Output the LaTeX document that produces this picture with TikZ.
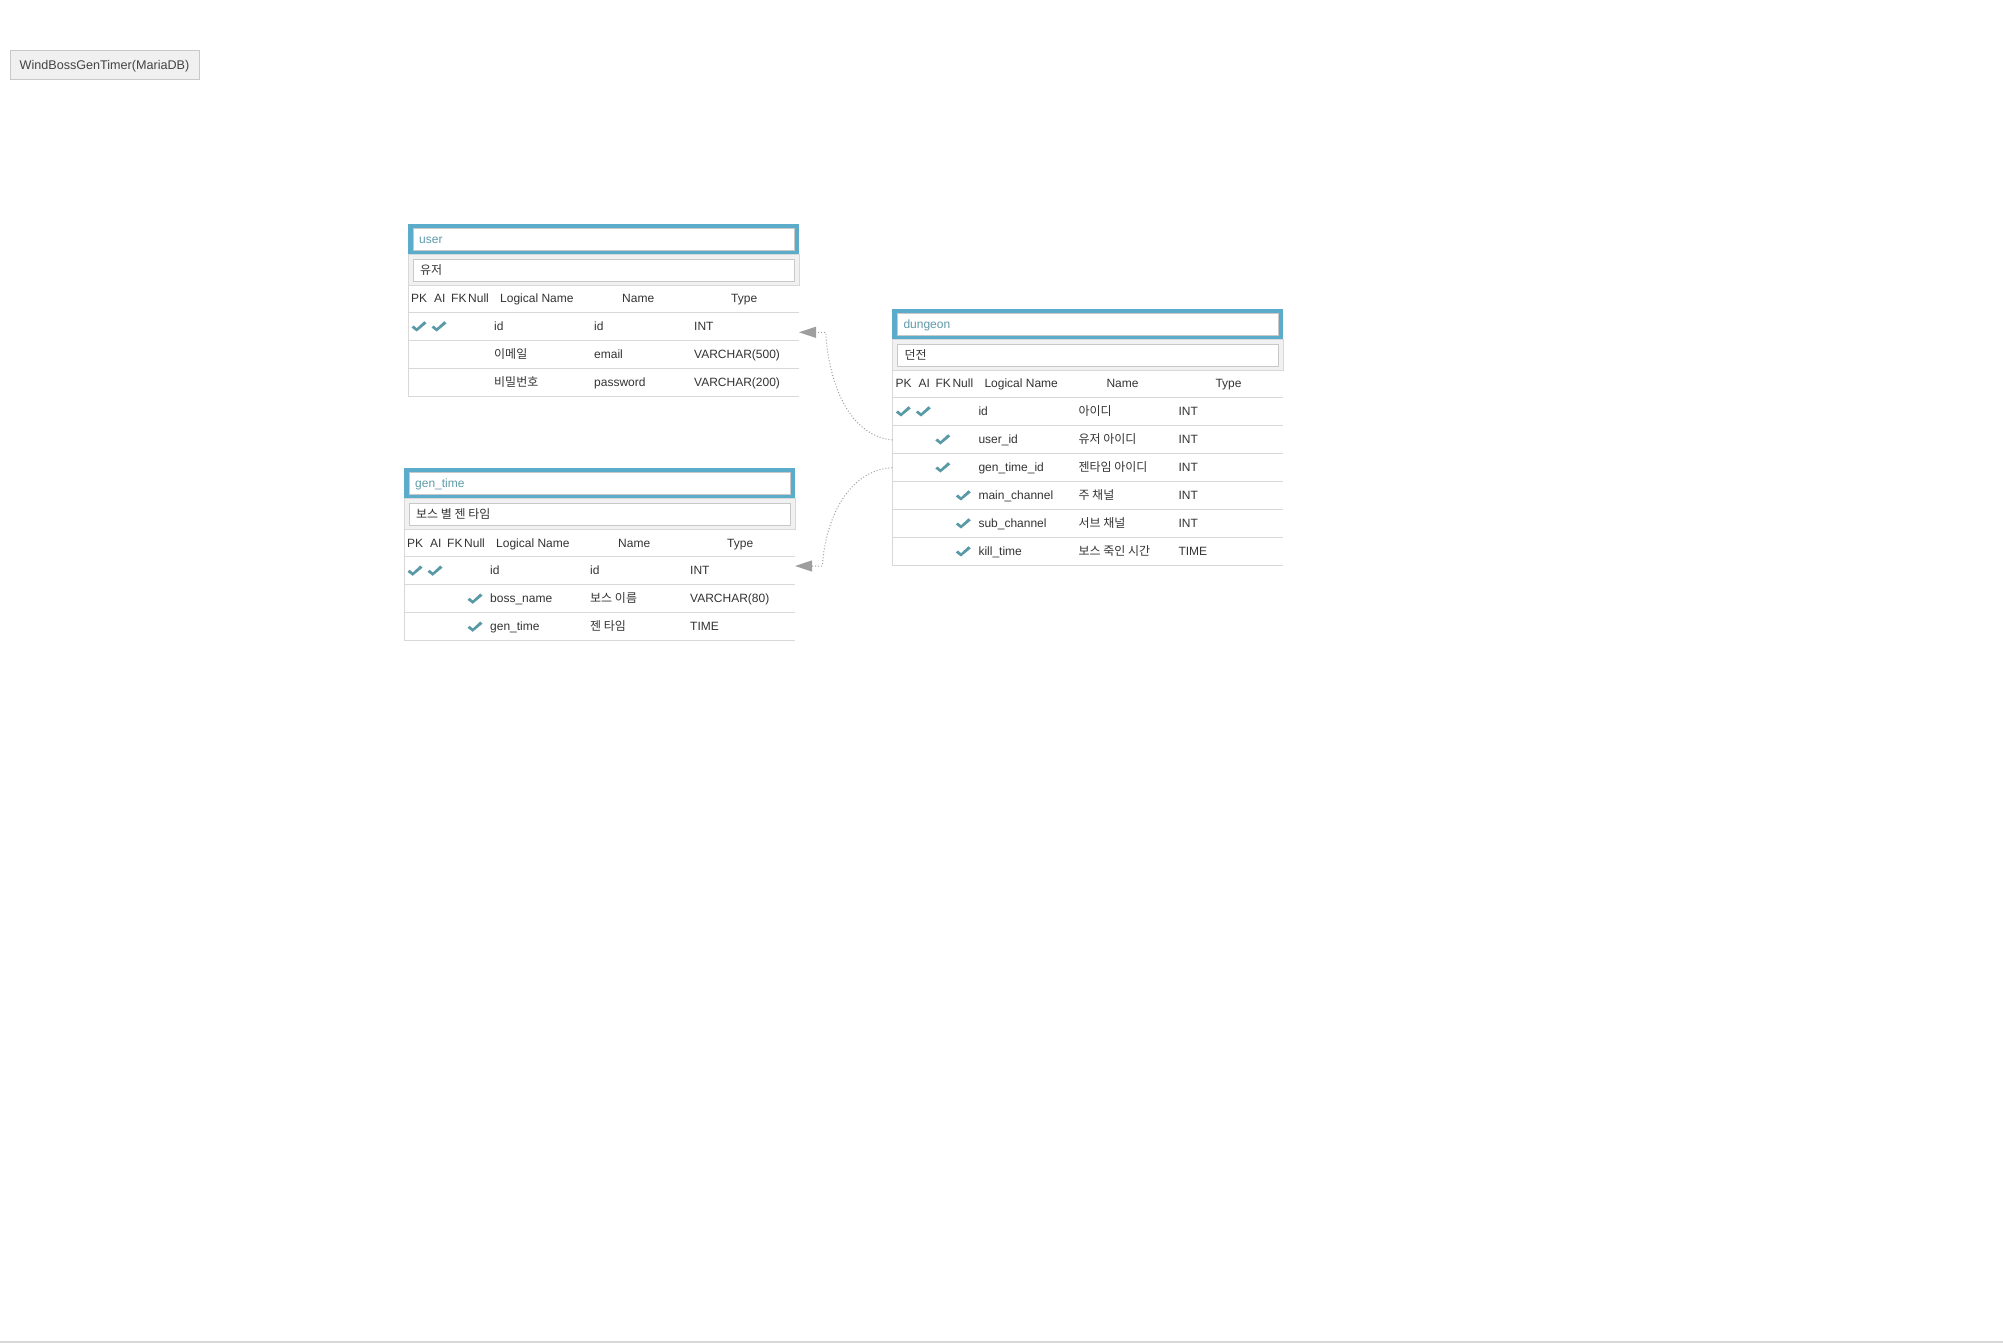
\documentclass[tikz,border=0pt]{standalone}
\usepackage{fontspec}
\setmainfont{Liberation Sans}
\newfontfamily\kr{Noto Sans CJK KR}
\usetikzlibrary{arrows.meta}
\definecolor{bandblue}{HTML}{5BACCB}
\definecolor{titteal}{HTML}{5E9BA9}
\definecolor{chkteal}{HTML}{5A9AA6}
\definecolor{txtgray}{HTML}{333333}
\definecolor{rowline}{HTML}{D8D8D8}
\definecolor{boxline}{HTML}{C8C8C8}
\definecolor{cmtgray}{HTML}{F1F1F1}
\definecolor{relgray}{HTML}{9E9E9E}
\definecolor{lblfill}{HTML}{F0F0F0}
\definecolor{lbltext}{HTML}{444444}

\begin{document}
\begin{tikzpicture}[x=1pt, y=-1pt, font=\fontsize{12}{14}\selectfont]
\tikzset{txtnoeud/.style={anchor=west, inner sep=0pt, text=txtgray, text height=8.6pt, text depth=0pt},
  titnoeud/.style={txtnoeud, text=titteal},
  chk/.pic={\fill[chkteal] (0,1.5) -- (2.2,-0.5) -- (5.2,2.2) -- (12.8,-4.8) -- (15,-2.6) -- (5.2,5.5) -- cycle;},
  rel/.style={draw=relgray, line width=1pt, dash pattern=on 1pt off 2pt,
    -{Triangle[length=17pt, width=11pt, fill=relgray]}}}
\useasboundingbox (0,0) rectangle (2003,1343);
\node[draw=boxline, fill=lblfill, minimum width=189pt, minimum height=29pt, inner sep=0pt,
  text=lbltext, text height=9pt, text depth=0pt, font=\fontsize{12.6}{14}\selectfont] (dbname) at (104.5,64.7) {WindBossGenTimer(MariaDB)};
\draw[rowline, line width=1.5pt] (0,1342.2) -- (2003,1342.2);

% user
\begin{scope}[shift={(408,224)}]
\fill[bandblue] (0,0) rectangle (391,30);
\filldraw[fill=white, draw=boxline] (5,4) rectangle (386,26);
\filldraw[fill=cmtgray, draw=rowline] (0,30) rectangle (391,61);
\filldraw[fill=white, draw=boxline] (5,35) rectangle (386,57);
\draw[rowline] (0,61) -- (0,172);
\foreach \k in {0,...,3} \draw[rowline] (0,88+28*\k) -- (391,88+28*\k);
\node[titnoeud] (Ut) at (11,15) {user};
\node[txtnoeud] (Uc) at (12,46) {\kr 유저};
\foreach \hx/\hl [count=\j] in {3/PK, 26/AI, 43/FK, 60/Null, 92/Logical Name, 214/Name, 323/Type}
  \node[txtnoeud] (Uh\j) at (\hx,74.5) {\hl};
\foreach \lgn/\nmv/\tyv [count=\rw] in {id/id/INT, {\kr 이메일}/email/VARCHAR(500), {\kr 비밀번호}/password/VARCHAR(200)} {
  \node[txtnoeud] (Ul\rw) at (86,74+28*\rw) {\lgn};
  \node[txtnoeud] (Un\rw) at (186,74+28*\rw) {\nmv};
  \node[txtnoeud] (Uy\rw) at (286,74+28*\rw) {\tyv};
}
\pic at (3.5,102) {chk};
\pic at (23.5,102) {chk};
\coordinate (Uin) at (391,108.3);
\end{scope}

% gen_time
\begin{scope}[shift={(404,468.3)}]
\fill[bandblue] (0,0) rectangle (391,30);
\filldraw[fill=white, draw=boxline] (5,4) rectangle (386,26);
\filldraw[fill=cmtgray, draw=rowline] (0,30) rectangle (391,61);
\filldraw[fill=white, draw=boxline] (5,35) rectangle (386,57);
\draw[rowline] (0,61) -- (0,172);
\foreach \k in {0,...,3} \draw[rowline] (0,88+28*\k) -- (391,88+28*\k);
\node[titnoeud] (Gt) at (11,15) {gen\_time};
\node[txtnoeud] (Gc) at (12,46) {\kr 보스 별 젠 타임};
\foreach \hx/\hl [count=\j] in {3/PK, 26/AI, 43/FK, 60/Null, 92/Logical Name, 214/Name, 323/Type}
  \node[txtnoeud] (Gh\j) at (\hx,74.5) {\hl};
\foreach \lgn/\nmv/\tyv [count=\rw] in {id/id/INT, boss\_name/{\kr 보스 이름}/VARCHAR(80), gen\_time/{\kr 젠 타임}/TIME} {
  \node[txtnoeud] (Gl\rw) at (86,74+28*\rw) {\lgn};
  \node[txtnoeud] (Gn\rw) at (186,74+28*\rw) {\nmv};
  \node[txtnoeud] (Gy\rw) at (286,74+28*\rw) {\tyv};
}
\pic at (3.5,102) {chk};
\pic at (23.5,102) {chk};
\pic at (63.5,130) {chk};
\pic at (63.5,158) {chk};
\coordinate (Gin) at (391,97.7);
\end{scope}

% dungeon
\begin{scope}[shift={(892.3,309)}]
\fill[bandblue] (0,0) rectangle (391,30);
\filldraw[fill=white, draw=boxline] (5,4) rectangle (386,26);
\filldraw[fill=cmtgray, draw=rowline] (0,30) rectangle (391,61);
\filldraw[fill=white, draw=boxline] (5,35) rectangle (386,57);
\draw[rowline] (0,61) -- (0,256);
\foreach \k in {0,...,6} \draw[rowline] (0,88+28*\k) -- (391,88+28*\k);
\node[titnoeud] (Dt) at (11,15) {dungeon};
\node[txtnoeud] (Dc) at (12,46) {\kr 던전};
\foreach \hx/\hl [count=\j] in {3/PK, 26/AI, 43/FK, 60/Null, 92/Logical Name, 214/Name, 323/Type}
  \node[txtnoeud] (Dh\j) at (\hx,74.5) {\hl};
\foreach \lgn/\nmv/\tyv [count=\rw] in {id/{\kr 아이디}/INT, user\_id/{\kr 유저 아이디}/INT,
  gen\_time\_id/{\kr 젠타임 아이디}/INT, main\_channel/{\kr 주 채널}/INT,
  sub\_channel/{\kr 서브 채널}/INT, kill\_time/{\kr 보스 죽인 시간}/TIME} {
  \node[txtnoeud] (Dl\rw) at (86,74+28*\rw) {\lgn};
  \node[txtnoeud] (Dn\rw) at (186,74+28*\rw) {\nmv};
  \node[txtnoeud] (Dy\rw) at (286,74+28*\rw) {\tyv};
}
\pic at (3.5,102) {chk};
\pic at (23.5,102) {chk};
\pic at (43,130) {chk};
\pic at (43,158) {chk};
\pic at (63.5,186) {chk};
\pic at (63.5,214) {chk};
\pic at (63.5,242) {chk};
\coordinate (Duid) at (0,131);
\coordinate (Dgid) at (0,158.7);
\end{scope}

\draw[rel] (Duid) .. controls (845,435) and (828,375) .. (825.7,332.3) -- (Uin);
\draw[rel] (Dgid) .. controls (850,470) and (826,515) .. (822.3,566) -- (Gin);
\end{tikzpicture}
\end{document}
